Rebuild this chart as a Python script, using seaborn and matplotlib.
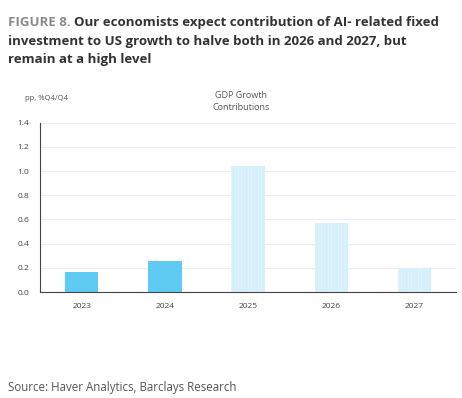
import seaborn as sns
import matplotlib.pyplot as plt
import pandas as pd

years = ['2023', '2024', '2025', '2026', '2027']
contrib = [0.17, 0.26, 1.04, 0.57, 0.20]
kind = ['actual', 'actual', 'forecast', 'forecast', 'forecast']
y_ticks = [0.0, 0.2, 0.4, 0.6, 0.8, 1.0, 1.2, 1.4]

df = pd.DataFrame({'year': years, 'value': contrib, 'kind': kind})

sns.set_style('white')
plt.rcParams['font.family'] = ['Open Sans', 'DejaVu Sans']
plt.rcParams['hatch.linewidth'] = 0.3

fig = plt.figure()
fig.set_size_inches(4.62, 3.98)
ax = fig.add_axes([0.087, 0.266, 0.900, 0.426])

bp = sns.barplot(data=df, x='year', y='value', hue='kind', dodge=False, width=0.4,
                 palette={'actual': '#5fcaf2', 'forecast': '#d5effb'},
                 legend=False, ax=ax, saturation=1)
for bar, k in zip(ax.patches, kind):
    bar.set_linewidth(0)
    if k == 'forecast':
        bar.set_hatch('|||||')
        bar.set_edgecolor('#eef9fe')

ax.set_ylim(0, 1.4)
ax.set_xlim(-0.5, 4.5)
ax.set_yticks(y_ticks)
ax.set_yticklabels(['%.1f' % t for t in y_ticks])
ax.set(xlabel='', ylabel='')
ax.yaxis.grid(True, color='#ececec', linewidth=0.8)
ax.set_axisbelow(True)
for s in ['top', 'right']:
    ax.spines[s].set_visible(False)
ax.spines['left'].set_color('#444444')
ax.spines['bottom'].set_color('#444444')
ax.tick_params(axis='y', length=0, labelsize=6, labelcolor='#444444', pad=8)
ax.tick_params(axis='x', length=0, labelsize=6, labelcolor='#444444', pad=8)
ax.set_xticks([i - 0.5 for i in range(6)], minor=True)
ax.tick_params(axis='x', which='minor', length=3, direction='in', color='#444444')

# title: grey label then dark bold text on the same line
t1 = fig.text(0.018, 0.935, 'FIGURE 8. ', fontsize=9.5, color='#8a8a8a', fontweight='bold')
fig.canvas.draw()
bb = t1.get_window_extent().transformed(fig.transFigure.inverted())
fig.text(bb.x1, 0.935, 'Our economists expect contribution of AI- related fixed',
         fontsize=9.5, color='#333333', fontweight='bold')
fig.text(0.018, 0.888, 'investment to US growth to halve both in 2026 and 2027, but',
         fontsize=9.5, color='#333333', fontweight='bold')
fig.text(0.018, 0.841, 'remain at a high level',
         fontsize=9.5, color='#333333', fontweight='bold')

fig.text(0.055, 0.748, 'pp, %Q4/Q4', fontsize=5.5, color='#555555')
fig.text(0.522, 0.745, 'GDP Growth\nContributions', fontsize=6.5, color='#555555',
         ha='center', va='center', linespacing=1.4)
fig.text(0.018, 0.017, 'Source: Haver Analytics, Barclays Research', fontsize=8.3,
         color='#555555')

plt.savefig(fname='out.png', dpi=100)
